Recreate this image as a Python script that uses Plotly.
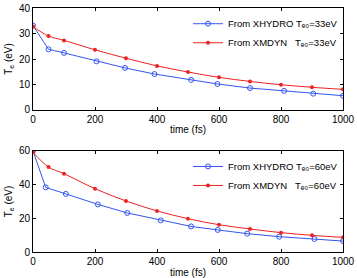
import plotly.graph_objects as go

# top panel (Te0 = 33 eV)
t_hydro_33 = [0, 50, 100, 205, 297, 392, 510, 595, 700, 810, 904, 1000]
te_hydro_33 = [33.1, 23.8, 22.4, 19.1, 16.5, 14.1, 11.8, 10.2, 8.6, 7.5, 6.4, 5.6]
t_mdyn_33 = [0, 50, 100, 200, 300, 400, 500, 600, 700, 800, 900, 1000]
te_mdyn_33 = [32.7, 29.0, 27.3, 23.6, 20.3, 17.3, 14.9, 12.8, 11.2, 9.9, 8.9, 8.1]

# bottom panel (Te0 = 60 eV)
t_hydro_60 = [0, 41, 106, 209, 304, 412, 510, 596, 691, 794, 908, 1000]
te_hydro_60 = [60.0, 38.4, 34.5, 28.3, 23.2, 18.8, 15.2, 13.1, 10.9, 9.1, 7.7, 6.5]
t_mdyn_60 = [0, 50, 100, 200, 300, 400, 500, 600, 700, 800, 900, 1000]
te_mdyn_60 = [59.2, 50.5, 46.5, 37.6, 30.3, 24.4, 19.8, 16.2, 13.7, 11.5, 9.9, 8.7]

BLUE = "#3355ee"
RED = "#ee2222"
FONT = "Liberation Sans, DejaVu Sans"

fig = go.Figure()
sp = "\u00a0"
sub = "\u2091\u2080"
fig.add_trace(go.Scatter(x=t_hydro_33, y=te_hydro_33, mode="lines+markers",
                         name="From XHYDRO T" + sub + "=33eV",
                         line=dict(color=BLUE, width=1),
                         marker=dict(symbol="circle-open", size=5, color=BLUE, line=dict(width=1)),
                         xaxis="x", yaxis="y", legend="legend"))
fig.add_trace(go.Scatter(x=t_mdyn_33, y=te_mdyn_33, mode="lines+markers",
                         name="From XMDYN" + sp * 3 + "T" + sub + "=33eV",
                         line=dict(color=RED, width=1, shape="spline"),
                         marker=dict(symbol="circle", size=4, color=RED),
                         xaxis="x", yaxis="y", legend="legend"))
fig.add_trace(go.Scatter(x=t_hydro_60, y=te_hydro_60, mode="lines+markers",
                         name="From XHYDRO T" + sub + "=60eV",
                         line=dict(color=BLUE, width=1),
                         marker=dict(symbol="circle-open", size=5, color=BLUE, line=dict(width=1)),
                         xaxis="x2", yaxis="y2", legend="legend2"))
fig.add_trace(go.Scatter(x=t_mdyn_60, y=te_mdyn_60, mode="lines+markers",
                         name="From XMDYN" + sp * 3 + "T" + sub + "=60eV",
                         line=dict(color=RED, width=1, shape="spline"),
                         marker=dict(symbol="circle", size=4, color=RED),
                         xaxis="x2", yaxis="y2", legend="legend2"))

axis_common = dict(showline=True, mirror="ticks", linecolor="black", linewidth=1,
                   ticks="inside", ticklen=3, tickcolor="black", showgrid=False,
                   zeroline=False, tickfont=dict(size=10, color="black", family=FONT),
                   automargin=False)

fig.update_layout(
    width=357, height=278,
    margin=dict(l=33, r=14, t=8, b=26),
    paper_bgcolor="white", plot_bgcolor="white",
    font=dict(family=FONT, size=10, color="black"),
    xaxis=dict(domain=[0, 1], anchor="y", range=[0, 1000], dtick=200,
               title=dict(text="time (fs)", standoff=2, font=dict(size=10)), **axis_common),
    yaxis=dict(domain=[0.582, 1], anchor="x", range=[0, 40], dtick=10,
               title=dict(text="T<sub>e</sub> (eV)", standoff=4, font=dict(size=10)), **axis_common),
    xaxis2=dict(domain=[0, 1], anchor="y2", range=[0, 1000], dtick=200,
                title=dict(text="time (fs)", standoff=2, font=dict(size=10)), **axis_common),
    yaxis2=dict(domain=[0, 0.414], anchor="x2", range=[0, 60], dtick=20,
                title=dict(text="T<sub>e</sub> (eV)", standoff=4, font=dict(size=10)), **axis_common),
    legend=dict(x=1, y=0.995, xanchor="right", yanchor="top", bgcolor="rgba(0,0,0,0)",
                font=dict(size=9.5), tracegroupgap=0, itemwidth=30),
    legend2=dict(x=1, y=0.41, xanchor="right", yanchor="top", bgcolor="rgba(0,0,0,0)",
                 font=dict(size=9.5), tracegroupgap=0, itemwidth=30),
    showlegend=True,
)

fig.write_html("out.html", config={"displayModeBar": False},
               post_script="document.body.style.margin='0px';")
